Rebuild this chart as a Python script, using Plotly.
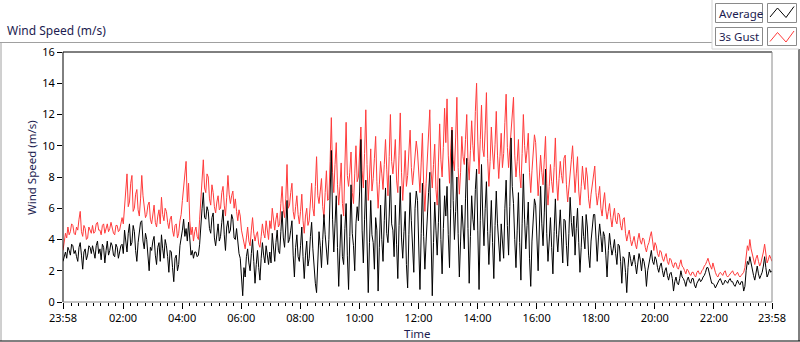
import plotly.graph_objects as go
import pandas as pd

# ---- data (samples every 2.5 minutes from 23:58) ----
gust_values = [
    3.3, 3.9, 4.4, 4.1, 4.8, 4.3, 4.5, 5.0, 4.9, 4.4, 4.3, 4.8, 4.6, 5.3, 5.8, 4.5, 4.2, 4.9, 4.7, 4.0, 4.1, 4.8, 4.6, 4.4,
    4.9, 4.4, 4.5, 5.0, 5.1, 4.6, 4.6, 4.3, 4.9, 5.0, 4.4, 4.8, 5.0, 4.5, 4.7, 5.1, 4.8, 4.4, 4.3, 4.9, 4.9, 4.5, 4.6, 5.0,
    5.4, 5.0, 5.9, 7.3, 8.2, 6.1, 6.4, 7.6, 8.1, 5.8, 6.0, 6.9, 7.2, 5.9, 5.5, 6.6, 8.1, 6.8, 6.0, 5.4, 5.6, 6.2, 6.4, 5.3,
    5.0, 5.7, 6.2, 5.1, 4.8, 5.5, 5.9, 5.0, 6.7, 5.6, 5.2, 6.0, 5.8, 5.1, 4.7, 5.3, 5.5, 4.6, 4.2, 4.9, 5.0, 4.1, 4.4, 5.2,
    5.6, 6.5, 7.2, 8.3, 9.0, 6.4, 7.6, 5.2, 4.3, 4.8, 3.9, 4.5, 4.8, 4.2, 4.0, 5.3, 6.5, 8.0, 9.1, 7.3, 7.0, 8.2, 8.0, 6.6,
    6.2, 7.5, 7.0, 6.1, 5.7, 6.4, 6.8, 5.9, 6.0, 7.0, 7.4, 6.2, 5.5, 6.7, 8.1, 6.9, 6.3, 6.8, 7.1, 6.0, 6.6, 5.8, 5.2, 5.9,
    5.5, 4.6, 4.2, 3.7, 3.4, 4.1, 4.8, 3.9, 3.6, 4.6, 5.4, 4.4, 3.9, 4.3, 4.5, 3.7, 3.5, 4.2, 5.0, 4.4, 4.1, 5.2, 4.7, 4.0,
    5.2, 4.7, 6.0, 5.1, 4.6, 5.3, 5.7, 4.8, 5.0, 6.3, 7.4, 5.9, 5.4, 6.6, 8.8, 6.0, 6.2, 7.0, 7.6, 5.8, 5.3, 6.1, 6.8, 5.6,
    5.0, 5.8, 6.9, 5.2, 4.4, 5.5, 6.0, 4.9, 5.2, 6.4, 7.6, 6.0, 5.5, 7.4, 9.3, 6.8, 6.3, 7.1, 7.9, 6.1, 5.4, 7.0, 8.4, 6.5,
    6.6, 9.0, 11.8, 8.3, 7.0, 8.8, 10.2, 7.5, 6.2, 7.4, 8.9, 6.3, 5.5, 8.7, 11.5, 8.1, 7.4, 8.3, 9.6, 7.0, 6.3, 8.2, 10.0, 7.7,
    8.0, 9.6, 11.2, 8.4, 7.3, 9.5, 12.3, 8.8, 6.5, 8.0, 9.8, 7.1, 7.9, 9.2, 10.6, 7.7, 6.0, 7.5, 9.0, 8.2, 7.2, 8.8, 10.4, 8.5,
    6.8, 9.3, 12.0, 9.0, 8.2, 9.1, 10.4, 7.8, 7.0, 9.4, 12.1, 8.3, 6.5, 8.0, 9.7, 7.4, 8.1, 9.6, 11.0, 8.6, 7.5, 8.4, 9.2, 10.3,
    9.6, 8.2, 7.0, 8.9, 10.8, 7.5, 5.8, 7.6, 9.2, 10.7, 12.3, 8.4, 7.3, 8.8, 10.1, 7.2, 6.2, 8.9, 11.4, 9.1, 8.0, 9.9, 12.4, 10.2,
    13.0, 9.4, 7.6, 9.8, 11.2, 9.1, 8.4, 10.5, 13.1, 8.6, 6.9, 8.3, 10.6, 9.3, 8.8, 10.4, 12.0, 9.0, 7.8, 9.7, 11.6, 10.0, 9.0, 12.2,
    14.0, 10.3, 8.2, 10.4, 12.6, 9.8, 9.3, 11.0, 13.4, 9.2, 7.4, 9.0, 11.2, 9.6, 8.5, 10.1, 12.2, 9.4, 7.9, 9.3, 10.8, 8.6, 9.5, 11.5,
    13.3, 9.9, 8.6, 9.8, 11.0, 12.2, 13.1, 9.4, 8.0, 9.0, 10.4, 8.2, 7.3, 9.5, 12.0, 10.0, 8.9, 9.7, 10.8, 8.3, 7.0, 8.4, 9.6, 10.7,
    10.2, 8.1, 6.8, 8.0, 9.4, 8.3, 7.5, 9.1, 10.6, 7.6, 6.2, 7.4, 8.8, 7.7, 7.0, 8.6, 10.5, 7.8, 6.5, 7.9, 9.0, 8.1, 7.6, 9.2,
    9.4, 7.5, 6.4, 7.3, 8.5, 9.1, 10.0, 7.9, 7.0, 8.2, 9.3, 7.1, 6.2, 7.4, 8.7, 7.8, 7.2, 8.6, 8.0, 6.6, 6.0, 6.9, 7.6, 8.3,
    8.7, 7.0, 6.2, 6.8, 7.4, 6.0, 5.5, 6.4, 7.0, 5.9, 5.3, 5.8, 6.3, 5.4, 4.8, 5.5, 6.0, 5.2, 5.0, 5.7, 5.6, 4.9, 4.6, 5.3,
    5.4, 4.4, 3.9, 4.3, 4.6, 4.0, 3.6, 3.9, 4.2, 3.7, 3.4, 4.0, 4.4, 3.9, 3.7, 4.1, 4.0, 3.5, 3.2, 3.6, 3.8, 4.2, 4.5, 3.9,
    3.3, 3.8, 3.6, 3.1, 2.9, 3.3, 3.2, 2.8, 2.6, 2.9, 3.1, 2.6, 2.4, 2.8, 2.7, 2.4, 2.2, 2.5, 2.5, 2.2, 2.1, 2.4, 2.7, 2.3,
    2.2, 2.0, 1.8, 2.1, 2.0, 1.8, 1.7, 1.9, 1.9, 1.7, 1.6, 1.9, 2.0, 1.8, 1.8, 2.0, 2.1, 2.3, 2.4, 2.6, 2.8, 2.5, 2.3, 2.1,
    2.5, 2.1, 1.9, 1.7, 1.6, 1.8, 1.9, 1.8, 1.7, 1.9, 2.0, 1.7, 1.6, 1.7, 1.8, 1.9, 2.0, 1.8, 1.7, 1.8, 1.9, 1.7, 1.6, 1.7,
    1.8, 1.9, 2.2, 3.0, 3.6, 3.3, 4.0, 3.4, 3.1, 2.7, 2.4, 2.8, 3.0, 2.6, 2.3, 2.5, 2.8, 3.2, 3.7, 3.0, 2.5, 2.7, 3.0, 2.8,
    2.6,
]

avg_values = [
    2.6, 3.0, 3.2, 2.8, 3.5, 3.3, 3.0, 3.7, 3.6, 3.1, 3.3, 2.9, 2.6, 3.5, 3.8, 3.0, 2.1, 3.2, 3.4, 2.7, 3.0, 3.6, 3.5, 3.1,
    3.6, 3.2, 2.8, 3.6, 3.9, 3.1, 3.4, 2.7, 3.7, 3.5, 2.5, 3.3, 3.9, 3.0, 3.3, 3.8, 3.6, 3.0, 2.9, 3.7, 3.5, 2.8, 3.3, 3.6,
    3.7, 3.1, 4.6, 3.9, 3.2, 4.4, 5.0, 3.6, 3.8, 4.9, 4.5, 3.3, 2.6, 3.8, 4.3, 5.1, 5.2, 3.9, 3.4, 4.4, 4.0, 2.9, 2.0, 3.5,
    3.3, 3.9, 4.2, 3.0, 2.4, 3.5, 3.8, 2.6, 4.3, 3.4, 2.8, 4.0, 3.6, 2.9, 1.9, 3.3, 3.2, 2.2, 1.3, 2.8, 3.0, 2.0, 2.4, 3.6,
    4.0, 4.6, 5.3, 4.2, 4.7, 3.9, 5.1, 3.6, 3.0, 3.3, 2.8, 3.2, 3.2, 2.9, 3.0, 3.7, 4.6, 6.0, 7.0, 5.4, 5.3, 6.1, 5.8, 4.7,
    4.4, 5.4, 5.7, 4.1, 3.6, 4.5, 5.0, 3.9, 4.2, 5.1, 5.9, 4.3, 3.3, 4.8, 5.2, 4.4, 4.6, 5.6, 5.3, 4.1, 4.0, 4.7, 3.6, 3.1,
    2.8, 1.6, 0.4, 2.2, 1.6, 2.9, 3.4, 2.5, 2.0, 3.1, 4.0, 2.6, 1.2, 2.4, 3.3, 2.2, 1.4, 2.8, 3.8, 3.0, 2.5, 3.6, 3.0, 2.4,
    3.2, 2.5, 4.4, 3.4, 2.6, 3.8, 4.6, 3.3, 3.1, 4.5, 5.8, 4.1, 3.5, 4.8, 6.5, 3.8, 4.0, 4.6, 5.2, 3.0, 1.6, 3.5, 4.3, 2.9,
    2.6, 3.6, 4.8, 2.9, 1.5, 3.0, 3.9, 2.3, 2.8, 4.2, 5.1, 3.4, 2.0, 1.2, 0.6, 3.1, 4.5, 3.6, 2.2, 4.0, 5.6, 4.3, 3.3, 2.4,
    4.0, 6.2, 9.7, 5.3, 3.2, 5.0, 6.8, 3.5, 1.0, 3.4, 5.6, 2.9, 2.4, 4.7, 6.3, 3.0, 0.8, 4.2, 7.5, 4.4, 3.6, 2.0, 5.0, 6.1,
    5.2, 7.1, 10.4, 4.6, 2.5, 5.3, 7.8, 3.9, 0.6, 3.8, 6.5, 4.3, 3.8, 2.1, 5.4, 4.6, 0.7, 3.5, 6.2, 4.0, 2.6, 5.2, 7.3, 4.4,
    3.8, 5.5, 8.1, 5.0, 4.6, 2.9, 6.2, 3.7, 1.5, 4.9, 7.4, 4.1, 2.8, 4.5, 5.8, 2.4, 0.9, 4.3, 7.0, 5.2, 3.2, 1.9, 6.0, 7.1,
    6.5, 3.6, 0.8, 4.4, 7.6, 4.2, 2.1, 3.9, 5.9, 7.0, 8.3, 3.5, 0.4, 3.8, 6.4, 4.6, 3.0, 5.1, 7.9, 4.0, 1.8, 4.7, 6.8, 5.5,
    7.4, 4.3, 2.2, 6.0, 11.0, 6.5, 4.0, 5.8, 8.0, 4.4, 1.6, 3.9, 6.2, 4.8, 3.4, 6.6, 9.2, 4.7, 1.2, 4.2, 6.8, 5.3, 4.6, 7.2,
    8.5, 4.6, 0.8, 5.2, 8.8, 5.5, 3.6, 6.0, 7.7, 4.5, 2.4, 4.4, 6.5, 3.8, 1.5, 4.9, 7.1, 5.0, 3.9, 2.6, 5.0, 4.1, 2.8, 6.0,
    7.8, 4.9, 3.0, 6.1, 10.5, 7.4, 6.3, 4.0, 2.2, 4.6, 7.0, 3.8, 1.4, 5.0, 8.2, 5.3, 3.4, 4.9, 6.4, 2.8, 1.0, 3.9, 5.6, 6.6,
    6.2, 3.8, 2.0, 4.8, 7.4, 5.0, 3.6, 5.7, 8.5, 4.4, 2.6, 3.9, 5.4, 3.5, 1.8, 4.5, 6.6, 4.3, 3.2, 4.6, 5.9, 4.1, 2.5, 5.3,
    5.2, 3.6, 2.3, 4.4, 6.7, 5.1, 4.2, 5.5, 3.0, 4.7, 6.0, 3.8, 1.9, 3.5, 5.5, 4.2, 3.4, 5.6, 4.8, 3.0, 2.2, 3.9, 5.0, 5.6,
    5.6, 4.0, 2.6, 4.1, 5.0, 4.2, 3.2, 4.5, 4.2, 3.0, 1.6, 3.3, 4.4, 3.6, 3.0, 3.4, 4.0, 3.1, 2.4, 3.7, 3.6, 2.6, 1.2, 2.9,
    2.8, 1.9, 0.6, 2.2, 3.2, 2.8, 2.3, 2.6, 3.0, 2.4, 1.8, 2.5, 3.1, 2.7, 2.0, 2.8, 2.6, 2.1, 1.0, 2.0, 2.4, 2.9, 3.3, 2.6,
    2.4, 2.9, 2.7, 2.2, 1.9, 2.3, 2.5, 2.0, 1.6, 2.0, 2.2, 1.7, 1.4, 1.8, 1.9, 1.5, 0.7, 1.3, 1.6, 1.2, 1.1, 1.5, 2.0, 1.6,
    1.5, 1.3, 1.0, 1.4, 1.6, 1.3, 1.2, 1.5, 1.5, 1.1, 0.9, 1.2, 1.4, 1.5, 1.3, 1.4, 1.6, 1.7, 1.9, 2.2, 2.2, 1.8, 1.5, 1.2,
    1.2, 1.1, 0.9, 1.1, 1.3, 1.4, 1.5, 1.3, 1.1, 1.2, 1.4, 1.3, 1.2, 1.4, 1.5, 1.3, 1.3, 1.1, 1.0, 1.2, 1.4, 1.2, 1.1, 1.3,
    1.3, 0.7, 1.0, 2.0, 2.6, 2.4, 2.9, 2.5, 2.0, 1.7, 1.4, 1.9, 2.3, 1.8, 1.5, 1.7, 1.9, 2.3, 2.9, 2.2, 1.6, 1.8, 2.1, 1.9,
    2.0,
]

series_names = ["Average", "3s Gust"]
x_tick_labels = ["23:58", "02:00", "04:00", "06:00", "08:00", "10:00",
                 "12:00", "14:00", "16:00", "18:00", "20:00", "22:00", "23:58"]
y_tick_values = [0, 2, 4, 6, 8, 10, 12, 14, 16]

# ---- time axis ----
start = pd.Timestamp("2024-01-01 23:58")
end = start + pd.Timedelta(hours=24)
n = min(len(avg_values), len(gust_values))
times = pd.date_range(start, periods=n, freq="150s")

major_ticks = [start] + [pd.Timestamp("2024-01-02") + pd.Timedelta(hours=h) for h in range(2, 24, 2)] + [end]
minor_ticks = pd.date_range(pd.Timestamp("2024-01-02 00:15"), end, freq="15min")
minor_ticks = [t for t in minor_ticks if t not in major_ticks and t < end]

fmt = lambda t: t.strftime("%Y-%m-%d %H:%M:%S")

# ---- geometry helpers (pixel -> paper) ----
W, H = 800, 342
L, R, T, B = 63, 772, 52, 302
def px(x):
    return (x - L) / (R - L)
def py(y):
    return (B - y) / (B - T)

FONT = "Noto Sans, Liberation Sans, sans-serif"
NAVY = "#1c1c50"

fig = go.Figure()
fig.add_trace(go.Scatter(x=times, y=gust_values[:n], mode="lines", name=series_names[1],
                         line=dict(color="#ff3b3b", width=1), hoverinfo="skip"))
fig.add_trace(go.Scatter(x=times, y=avg_values[:n], mode="lines", name=series_names[0],
                         line=dict(color="#000000", width=1), hoverinfo="skip"))

fig.update_layout(
    width=W, height=H,
    margin=dict(l=L, r=W - R, t=T, b=H - B, pad=0),
    paper_bgcolor="white", plot_bgcolor="white",
    showlegend=False,
    font=dict(family=FONT, size=11, color="black"),
    xaxis=dict(
        type="date", range=[fmt(start), fmt(end)],
        tickmode="array", tickvals=[fmt(t) for t in major_ticks], ticktext=x_tick_labels,
        ticks="outside", ticklen=6, tickwidth=1, tickcolor="black",
        showgrid=False, zeroline=False, showline=False,
        tickfont=dict(family=FONT, size=11, color="black"),
        minor=dict(tickmode="array", tickvals=[fmt(t) for t in minor_ticks],
                   ticks="outside", ticklen=3, tickwidth=1, tickcolor="black", showgrid=False),
    ),
    yaxis=dict(
        range=[0, 16], tickmode="array", tickvals=y_tick_values,
        ticks="outside", ticklen=5, tickwidth=1, tickcolor="black",
        showgrid=False, zeroline=False, showline=False,
        tickfont=dict(family=FONT, size=11, color="black"),
    ),
)

shapes = []
def line(x0, y0, x1, y1, color, width=1):
    shapes.append(dict(type="line", xref="paper", yref="paper",
                       x0=px(x0), y0=py(y0), x1=px(x1), y1=py(y1),
                       line=dict(color=color, width=width), layer="above"))

# plot frame (sunken look)
line(L, T, R, T, "black")
line(L, T, L, B, "black")
line(L, B, R, B, "#8a8a8a")
line(R, T, R, B, "#8a8a8a")

# outer panel
line(0, 42.5, 712, 42.5, "#a0a0a0")
line(1, 42, 1, 341, "#a0a0a0")
line(0, 341, 800, 341, "black")
line(799, 49, 799, 341, "black")
line(712, 0, 712, 49, "#d4d4d4")
line(712, 49, 799, 49, "#d4d4d4")

# legend boxes
def rect(x0, y0, x1, y1):
    shapes.append(dict(type="rect", xref="paper", yref="paper",
                       x0=px(x0), y0=py(y0), x1=px(x1), y1=py(y1),
                       line=dict(color="#8a8a8a", width=1), fillcolor="white", layer="above"))

rect(715.5, 3.5, 762.5, 22.5)
rect(767.5, 3.5, 796.5, 22.5)
rect(715.5, 27.5, 762.5, 45.5)
rect(767.5, 27.5, 796.5, 45.5)

def zigzag(y_off, color):
    pts = [(770, 17), (777.5, 8), (786, 17.5), (794, 6.5)]
    path = "M " + " L ".join(f"{px(a)},{py(b + y_off)}" for a, b in pts)
    shapes.append(dict(type="path", xref="paper", yref="paper", path=path,
                       line=dict(color=color, width=1), layer="above"))

zigzag(0, "black")
zigzag(24.5, "#ff3b3b")

fig.update_layout(shapes=shapes)

annotations = [
    dict(text="Wind Speed (m/s)", x=px(5), y=py(31), xanchor="left", yanchor="middle",
         font=dict(family=FONT, size=12, color=NAVY)),
    dict(text="Wind Speed (m/s)", x=px(31), y=py(168), xanchor="center", yanchor="middle",
         textangle=-90, font=dict(family=FONT, size=11.5, color=NAVY)),
    dict(text="Time", x=px(417.5), y=py(333), xanchor="center", yanchor="middle",
         font=dict(family=FONT, size=11.5, color=NAVY)),
    dict(text=series_names[0], x=px(717), y=py(13), xanchor="left", yanchor="middle",
         font=dict(family=FONT, size=11.5, color=NAVY)),
    dict(text=series_names[1], x=px(717), y=py(36.5), xanchor="left", yanchor="middle",
         font=dict(family=FONT, size=11.5, color=NAVY)),
]
for a in annotations:
    a.update(xref="paper", yref="paper", showarrow=False)
fig.update_layout(annotations=annotations)

fig.write_html("out.html", config=dict(displayModeBar=False, staticPlot=True),
               post_script="document.body.style.margin='0';document.body.style.padding='0';"
                           "document.documentElement.style.overflow='hidden';")
